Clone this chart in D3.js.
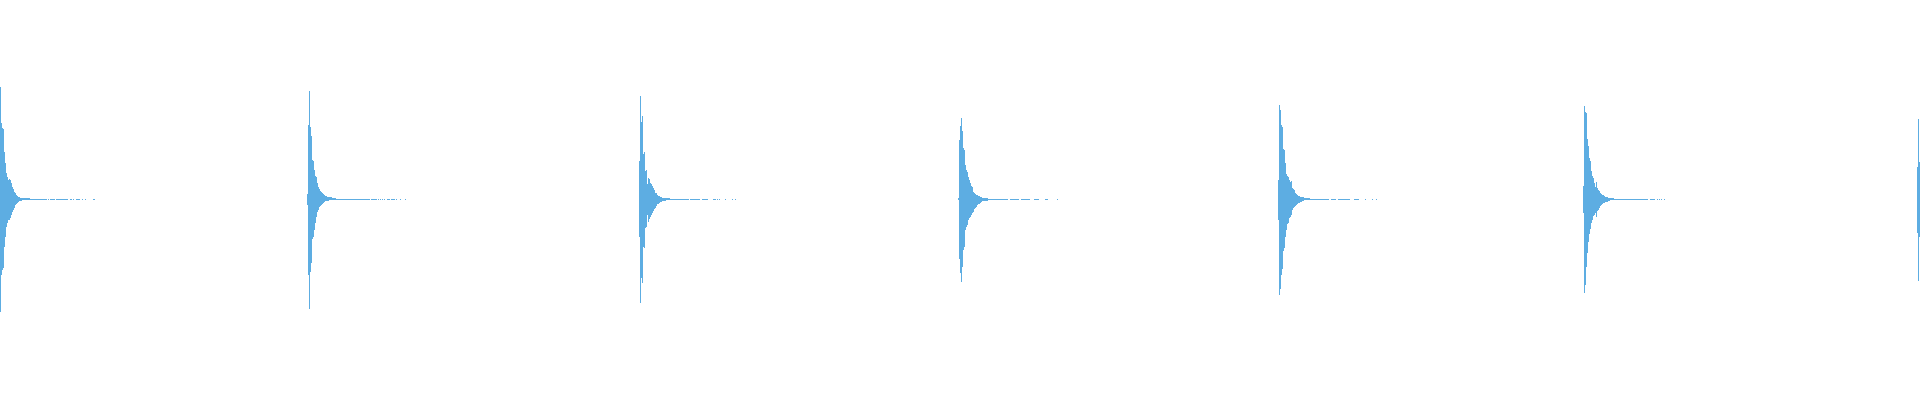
<!DOCTYPE html>
<html>
<head>
    <meta charset="utf-8">
    <title>Waveform</title>
    <script src="https://cdn.jsdelivr.net/npm/d3@7/dist/d3.min.js"></script>
    <style>
        html, body { margin: 0; padding: 0; background: #fff; }
        svg { display: block; }
    </style>
</head>
<body>
    <svg width="1920" height="400" id="mainsvg"></svg>
    <script>
        // waveform peaks, one min/max pair per column, grouped by hit
        const totalColumns = 1920;
        const onsets = [0, 307, 639, 958, 1278, 1583, 1917];

        const peaksHigh = [
            [0.565,0.381,0.356,0.352,0.238,0.182,0.132,0.110,0.096,0.100,0.096,0.080,0.063,0.053,0.038,0.030,0.023,0.016,0.013,0.010,0.008,0.008,0.006,0.006,0.006,0.006,0.006,0.006,0.006,0.006],
            [0.026,0.372,0.543,0.361,0.317,0.197,0.192,0.147,0.116,0.113,0.083,0.063,0.053,0.043,0.035,0.030,0.025,0.021,0.016,0.016,0.013,0.013,0.010,0.010,0.010,0.006,0.006,0.006,0.006],
            [0.192,0.518,0.389,0.418,0.227,0.238,0.143,0.147,0.076,0.108,0.100,0.080,0.076,0.066,0.058,0.046,0.033,0.030,0.021,0.018,0.015,0.013,0.010,0.008,0.008,0.006,0.006,0.005,0.005,0.005,0.005],
            [0.004,0.297,0.367,0.409,0.342,0.256,0.247,0.172,0.147,0.135,0.110,0.096,0.083,0.066,0.060,0.038,0.033,0.028,0.023,0.020,0.016,0.015,0.013,0.010,0.008,0.008,0.006,0.006,0.006,0.006],
            [0.096,0.473,0.448,0.372,0.360,0.250,0.247,0.180,0.125,0.116,0.110,0.096,0.088,0.091,0.055,0.050,0.046,0.030,0.026,0.021,0.018,0.016,0.013,0.013,0.010,0.010,0.006,0.006,0.006,0.006,0.006,0.006],
            [0.066,0.468,0.439,0.431,0.301,0.267,0.205,0.192,0.143,0.116,0.105,0.080,0.063,0.088,0.055,0.046,0.041,0.030,0.026,0.021,0.020,0.016,0.013,0.010,0.010,0.008,0.008,0.006,0.006,0.006,0.006],
            [0.160,0.401,0.188]
        ];

        const peaksLow = [
            [-0.565,-0.381,-0.355,-0.345,-0.238,-0.188,-0.138,-0.118,-0.104,-0.104,-0.096,-0.079,-0.063,-0.054,-0.043,-0.029,-0.024,-0.018,-0.013,-0.009,-0.008,-0.008,-0.004,-0.004,-0.004,-0.004,-0.004,-0.004,-0.004,-0.004],
            [-0.029,-0.381,-0.550,-0.364,-0.319,-0.201,-0.188,-0.155,-0.121,-0.088,-0.063,-0.054,-0.041,-0.033,-0.028,-0.023,-0.018,-0.014,-0.011,-0.011,-0.008,-0.008,-0.006,-0.006,-0.006,-0.004,-0.004,-0.004,-0.004],
            [-0.191,-0.523,-0.394,-0.419,-0.238,-0.243,-0.146,-0.141,-0.079,-0.113,-0.101,-0.088,-0.079,-0.068,-0.058,-0.051,-0.043,-0.034,-0.024,-0.023,-0.018,-0.016,-0.014,-0.011,-0.011,-0.008,-0.008,-0.004,-0.004,-0.004,-0.004],
            [-0.006,-0.300,-0.372,-0.414,-0.342,-0.255,-0.238,-0.155,-0.138,-0.130,-0.104,-0.096,-0.088,-0.079,-0.068,-0.063,-0.049,-0.043,-0.038,-0.031,-0.026,-0.024,-0.018,-0.013,-0.011,-0.011,-0.008,-0.008,-0.008,-0.008],
            [-0.104,-0.481,-0.452,-0.381,-0.350,-0.259,-0.246,-0.188,-0.155,-0.125,-0.118,-0.096,-0.088,-0.079,-0.054,-0.046,-0.041,-0.034,-0.029,-0.024,-0.021,-0.018,-0.014,-0.014,-0.011,-0.011,-0.006,-0.006,-0.006,-0.006,-0.006,-0.006],
            [-0.068,-0.472,-0.431,-0.339,-0.272,-0.213,-0.175,-0.151,-0.121,-0.104,-0.084,-0.079,-0.071,-0.091,-0.059,-0.054,-0.046,-0.033,-0.029,-0.024,-0.021,-0.019,-0.016,-0.013,-0.013,-0.009,-0.009,-0.006,-0.006,-0.006,-0.006],
            [-0.171,-0.409,-0.188]
        ];

        // quiet tail after each hit: runs of columns [from, to) relative to onset
        const tailRuns = [
            [[30,47],[48,49],[50,55],[56,68],[70,72],[73,74],[76,80],[82,83],[85,86],[93,95]],
            [[29,63],[64,70],[71,72],[73,74],[75,76],[77,78],[80,83],[84,88],[89,90],[93,94],[98,99]],
            [[31,50],[51,61],[63,69],[74,77],[78,79],[80,81],[86,87],[93,94],[96,97]],
            [[30,50],[52,61],[63,72],[76,81],[87,90],[99,100]],
            [[32,51],[53,58],[60,72],[76,81],[87,88],[94,95],[98,99]],
            [[31,65],[67,72],[74,75],[76,77],[78,79],[81,82]],
            []
        ];
        const tailLevel = 0.0025;

        const color = '#5dade2';

        const svg = d3.select('svg');
        const width = +svg.attr('width');
        const height = +svg.attr('height');

        const xScale = d3.scaleLinear().domain([0, totalColumns]).range([0, width]);
        const yScale = d3.scaleLinear().domain([-1, 1]).range([398.4, 0]);
        const colW = xScale(1) - xScale(0);

        // flatten into column records
        const columns = [];
        onsets.forEach((start, h) => {
            peaksHigh[h].forEach((hi, i) => {
                columns.push({ col: start + i, hi: hi, lo: peaksLow[h][i] });
            });
        });
        const tails = [];
        onsets.forEach((start, h) => {
            tailRuns[h].forEach(r => tails.push({ from: start + r[0], to: start + r[1] }));
        });

        const g = svg.append('g').attr('shape-rendering', 'crispEdges');

        g.selectAll('rect.tail').data(tails).join('rect')
            .attr('class', 'tail')
            .attr('x', d => xScale(d.from))
            .attr('width', d => xScale(d.to) - xScale(d.from))
            .attr('y', yScale(tailLevel))
            .attr('height', yScale(-tailLevel) - yScale(tailLevel))
            .attr('fill', color);

        g.selectAll('rect.peak').data(columns).join('rect')
            .attr('class', 'peak')
            .attr('x', d => xScale(d.col))
            .attr('width', colW)
            .attr('y', d => yScale(d.hi))
            .attr('height', d => Math.max(1, yScale(d.lo) - yScale(d.hi)))
            .attr('fill', color);
    </script>
</body>
</html>
